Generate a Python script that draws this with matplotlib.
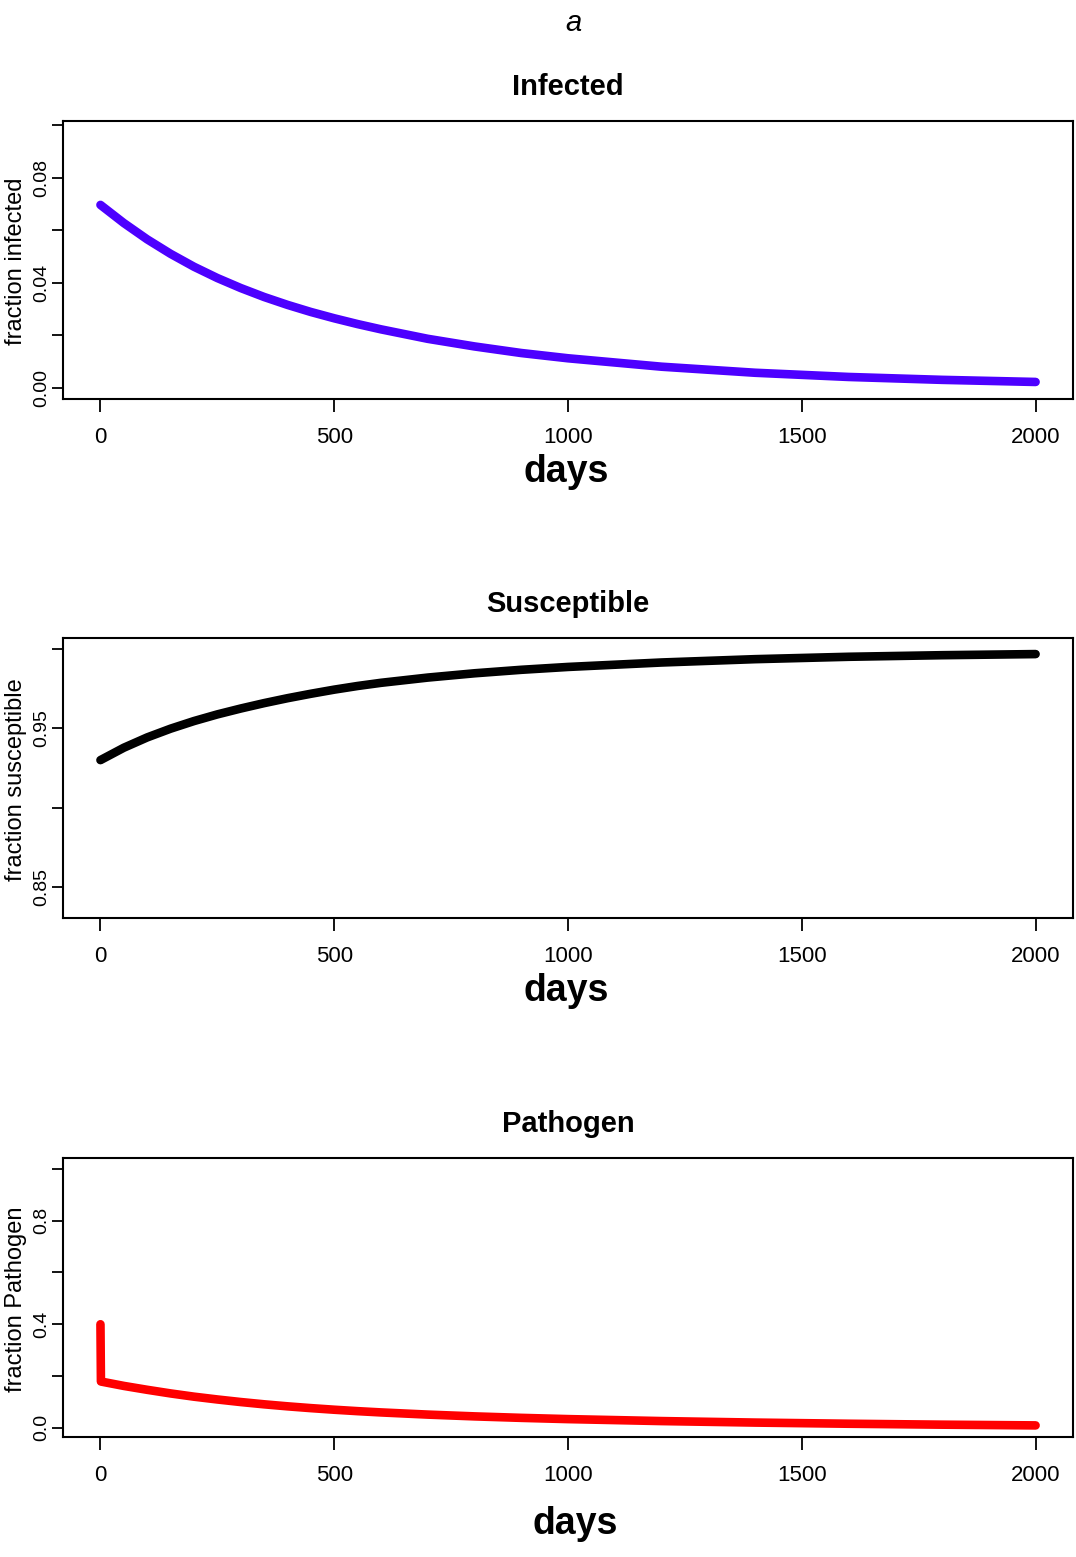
import matplotlib
matplotlib.use("Agg")
import matplotlib.pyplot as plt

# values
days = [0, 50, 100, 150, 200, 250, 300, 350, 400, 450, 500, 550, 600, 700,
        800, 900, 1000, 1200, 1400, 1600, 1800, 2000]
infected = [0.0696, 0.0627, 0.0565, 0.0510, 0.0461, 0.0418, 0.0380, 0.0346,
            0.0316, 0.0289, 0.0265, 0.0243, 0.0223, 0.0187, 0.0158, 0.0133,
            0.0113, 0.0081, 0.0058, 0.0042, 0.0031, 0.0023]
susceptible = [0.930, 0.9378, 0.9443, 0.9498, 0.9546, 0.9588, 0.9625, 0.9659,
               0.9690, 0.9718, 0.9744, 0.9767, 0.9787, 0.9820, 0.9847, 0.9869,
               0.9887, 0.9915, 0.9936, 0.9951, 0.9961, 0.9968]
path_days = [0, 1, 50, 100, 150, 200, 250, 300, 350, 400, 450, 500, 550, 600,
             700, 800, 900, 1000, 1200, 1400, 1600, 1800, 2000]
pathogen = [0.40, 0.179, 0.162, 0.147, 0.133, 0.1205, 0.1097, 0.0998, 0.0910,
            0.0832, 0.0763, 0.0701, 0.0646, 0.0597, 0.0513, 0.0444, 0.0387,
            0.0339, 0.0263, 0.0205, 0.0160, 0.0124, 0.0096]

xticks = [0, 500, 1000, 1500, 2000]

font = ['Liberation Sans', 'DejaVu Sans']

panels = [
    # title, x, y, colour, ylabel, yticks, shown labels, ylim, axes rect
    ("Infected", days, infected, "#4d00ff", "fraction infected",
     [0.0, 0.02, 0.04, 0.06, 0.08, 0.10], ["0.00", "", "0.04", "", "0.08", ""],
     (-0.0042, 0.1015), [0.0586, 0.7437, 0.9386, 0.1786], 0.0, 0.0),
    ("Susceptible", days, susceptible, "black", "fraction susceptible",
     [0.85, 0.90, 0.95, 1.00], ["0.85", "", "0.95", ""],
     (0.8305, 1.0069), [0.0586, 0.4104, 0.9386, 0.1798], 0.0, 0.0),
    ("Pathogen", path_days, pathogen, "#ff0000", "fraction Pathogen",
     [0.0, 0.2, 0.4, 0.6, 0.8, 1.0], ["0.0", "", "0.4", "", "0.8", ""],
     (-0.035, 1.042), [0.0586, 0.0771, 0.9386, 0.1792], 0.009, 0.05),
]

fig = plt.figure(figsize=(10.76, 15.57), dpi=100)

for title, x, y, col, ylab, yt, ytl, ylim, rect, dx, dy in panels:
    ax = fig.add_axes(rect)
    ax.plot(x, y, color=col, lw=6.2, solid_capstyle='round',
            solid_joinstyle='round')
    ax.set_xlim(-80, 2080)
    ax.set_ylim(*ylim)
    ax.set_xticks(xticks)
    ax.set_xticklabels([str(t) for t in xticks], family=font, fontsize=16)
    ax.set_yticks(yt)
    ax.set_yticklabels(ytl, family=font, fontsize=14, rotation=90,
                       va='center')
    ax.tick_params(axis='x', length=9, width=1.3, pad=11)
    ax.tick_params(axis='y', length=8, width=1.3, pad=1.5)
    for s in ax.spines.values():
        s.set_linewidth(1.5)
    ax.set_title(title, family=font, fontsize=21, fontweight='bold', pad=19)
    ax.set_ylabel(ylab, family=font, fontsize=17)
    ax.yaxis.set_label_coords(-0.0356, 0.495)
    ax.set_xlabel("days", family=font, fontsize=27, fontweight='bold')
    ax.xaxis.set_label_coords(0.498 + dx, -0.196 - dy)

fig.text(573 / 1076, 0.980, "a", family=font, fontsize=21, style='italic',
         ha='center', va='baseline')

fig.savefig("out.png", dpi=100)
